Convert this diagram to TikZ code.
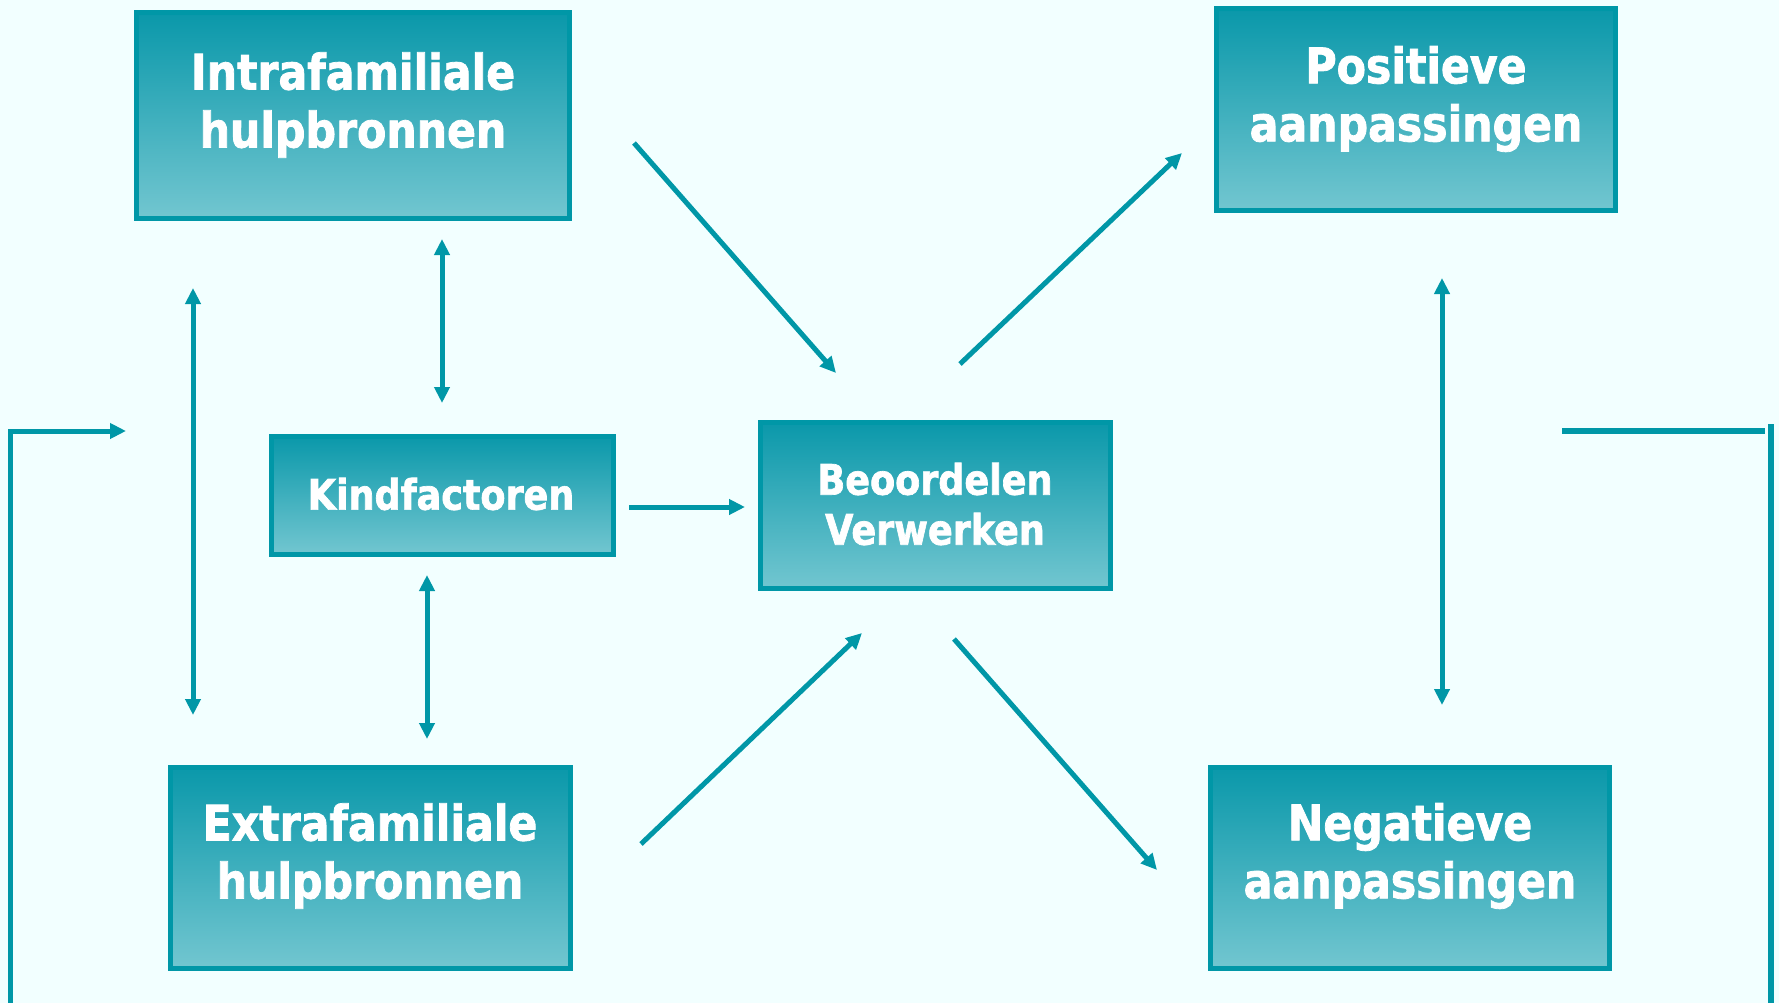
\documentclass[tikz,border=0pt]{standalone}
\usepackage{fontspec}
\setmainfont[FakeStretch=0.87,BoldFeatures={FakeBold=1.6}]{DejaVu Sans}
\usetikzlibrary{arrows.meta}
\definecolor{bgc}{HTML}{F2FFFF}
\definecolor{linec}{HTML}{0097A7}
\definecolor{topc}{HTML}{0A98AA}
\definecolor{botc}{HTML}{72C6D0}
\tikzset{
  box/.style={draw=linec, line width=5pt, top color=topc, bottom color=botc, minimum width=#1, inner sep=0pt},
  bigtxt/.style={text=white, font=\fontsize{49}{58}\selectfont\bfseries, align=center, inner sep=0pt},
  midtxt/.style={text=white, font=\fontsize{42}{50}\selectfont\bfseries, align=center, inner sep=0pt},
  conn/.style={draw=linec, line width=5pt, -{Triangle[length=16pt,width=15pt]}},
  dconn/.style={draw=linec, line width=5pt, {Triangle[length=16pt,width=15pt]}-{Triangle[length=16pt,width=15pt]}},
  plain/.style={draw=linec, line width=5.5pt}
}
\begin{document}
\begin{tikzpicture}[x=1pt,y=-1pt]
\fill[bgc] (0,0) rectangle (1779,1003);
\useasboundingbox (0,0) rectangle (1779,1003);
% boxes
\node[box=433pt, minimum height=205pt] (intra) at (352.5,115.5) {};
\node[box=399pt, minimum height=201pt] (pos) at (1415.5,109.5) {};
\node[box=342pt, minimum height=118pt] (kind) at (442,495) {};
\node[box=350pt, minimum height=166pt] (beo) at (935,505) {};
\node[box=400pt, minimum height=201pt] (extra) at (370,867.5) {};
\node[box=399pt, minimum height=201pt] (neg) at (1410,867.5) {};
% texts
\node[bigtxt] (intraT) at (353,105) {Intrafamiliale\\hulpbronnen};
\node[bigtxt] (posT) at (1416,99) {Positieve\\aanpassingen};
\node[midtxt] (kindT) at (441,494) {Kindfactoren};
\node[midtxt] (beoT) at (935,504) {Beoordelen\\Verwerken};
\node[bigtxt] (extraT) at (370,856) {Extrafamiliale\\hulpbronnen};
\node[bigtxt] (negT) at (1410,856) {Negatieve\\aanpassingen};
% connector end points
\coordinate (a1) at (634,143); \coordinate (a2) at (836,373);
\coordinate (b1) at (960,364); \coordinate (b2) at (1182,153);
\coordinate (c1) at (641,844); \coordinate (c2) at (862,633);
\coordinate (d1) at (954,639); \coordinate (d2) at (1157,870);
\coordinate (e1) at (629,507); \coordinate (e2) at (745,507);
\coordinate (f1) at (193,288); \coordinate (f2) at (193,715);
\coordinate (g1) at (442,239); \coordinate (g2) at (442,403);
\coordinate (h1) at (427,575); \coordinate (h2) at (427,739);
\coordinate (i1) at (1442,278); \coordinate (i2) at (1442,705);
\coordinate (l0) at (10,1003); \coordinate (l1) at (10,431); \coordinate (l2) at (126,431);
\coordinate (r1) at (1562,431); \coordinate (r2) at (1765,431);
\coordinate (r3) at (1771,424); \coordinate (r4) at (1771,1003);
% connectors
\draw[conn] (a1) -- (a2);
\draw[conn] (b1) -- (b2);
\draw[conn] (c1) -- (c2);
\draw[conn] (d1) -- (d2);
\draw[conn] (e1) -- (e2);
\draw[dconn] (f1) -- (f2);
\draw[dconn] (g1) -- (g2);
\draw[dconn] (h1) -- (h2);
\draw[dconn] (i1) -- (i2);
\draw[conn] (l0) -- (l1) -- (l2);
\draw[plain] (r1) -- (r2);
\draw[plain] (r3) -- (r4);
\end{tikzpicture}
\end{document}
